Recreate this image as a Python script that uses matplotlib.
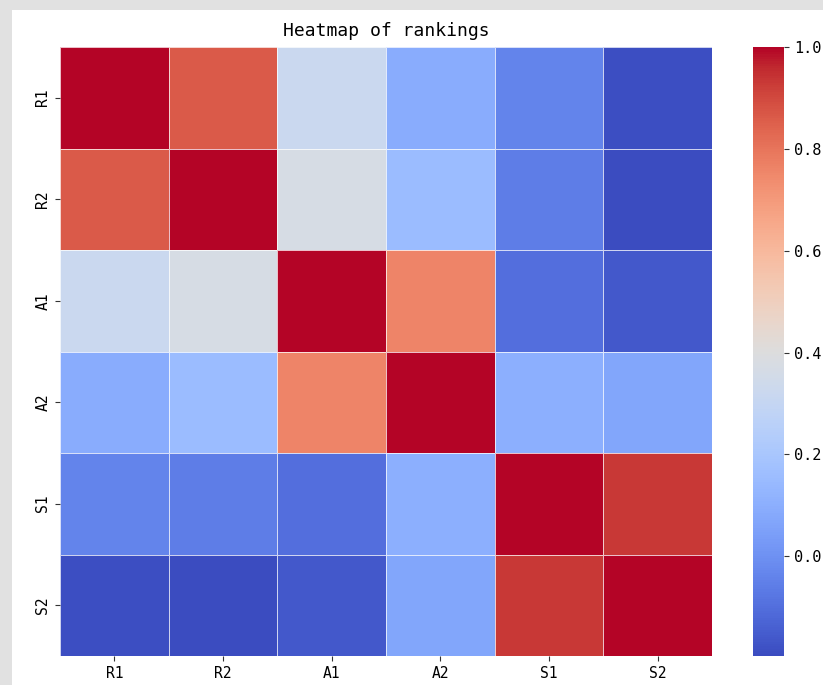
import numpy as np
import matplotlib
matplotlib.use("Agg")
import matplotlib.pyplot as plt
import seaborn as sns
from matplotlib.patches import Rectangle

# ranking labels and pairwise correlations
labels = ["R1", "R2", "A1", "A2", "S1", "S2"]
row_R1 = [1.00, 0.86, 0.32, 0.09, -0.04, -0.19]
row_R2 = [0.86, 1.00, 0.37, 0.15, -0.06, -0.196]
row_A1 = [0.32, 0.37, 1.00, 0.76, -0.10, -0.16]
row_A2 = [0.09, 0.15, 0.76, 1.00, 0.10, 0.07]
row_S1 = [-0.04, -0.06, -0.10, 0.10, 1.00, 0.93]
row_S2 = [-0.19, -0.196, -0.16, 0.07, 0.93, 1.00]
cbar_ticks = [0.0, 0.2, 0.4, 0.6, 0.8, 1.0]

corr = np.array([row_R1, row_R2, row_A1, row_A2, row_S1, row_S2])

plt.rcParams['font.family'] = ['DejaVu Sans Mono']

fig = plt.figure(figsize=(8.23, 6.85), dpi=100)
fig.patch.set_facecolor('white')

ax = fig.add_axes([60/823, 1 - 656/685, 652/823, 609/685])
cax = fig.add_axes([753/823, 1 - 656/685, 31/823, 609/685])

sns.heatmap(corr, ax=ax, cbar_ax=cax, cmap='coolwarm',
            linewidths=0.5, linecolor=(1, 1, 1, 0.75),
            xticklabels=labels, yticklabels=labels)

ax.set_title("Heatmap of rankings", fontsize=13, pad=8)
ax.tick_params(axis='both', labelsize=10.5, length=3.5, width=0.8, color='#333333')
plt.setp(ax.get_yticklabels(), rotation=90, va='center')
plt.setp(ax.get_xticklabels(), rotation=0)

cax.set_yticks(cbar_ticks)
cax.set_yticklabels([f"{t:.1f}" for t in cbar_ticks])
cax.tick_params(labelsize=11, length=3.5, width=0.8, color='#333333')
for s in cax.spines.values():
    s.set_visible(False)

# grey frame strips along the top and left edges
fig.patches.append(Rectangle((0, 1 - 10/685), 1, 10/685, transform=fig.transFigure,
                             facecolor='#e1e1e1', edgecolor='none', zorder=10))
fig.patches.append(Rectangle((0, 0), 12/823, 1, transform=fig.transFigure,
                             facecolor='#e1e1e1', edgecolor='none', zorder=10))

fig.savefig("out.png", dpi=100)
